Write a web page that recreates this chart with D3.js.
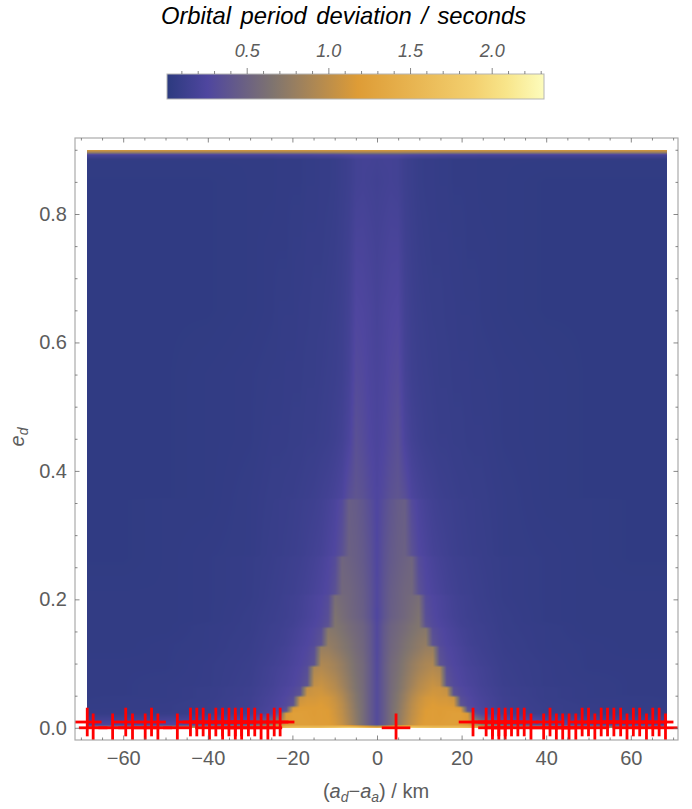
<!DOCTYPE html>
<html>
<head>
<meta charset="utf-8">
<script src="https://cdn.jsdelivr.net/npm/d3@7"></script>
<style>
	body { margin: 0; background: #fff; }
	svg { display: block; font-family: "Liberation Sans", Arial, sans-serif; }
	.axisLabel { fill: #5c5c5c; }
</style>
</head>
<body>
<svg id="vis" width="692" height="809"></svg>
<script>
// distance from the centre in km (the map is mirrored around x = 0)
const halfColumns = [0, 1.65, 3.3, 4.95, 6.6, 8.25, 9.9, 11.55, 13.2, 14.85, 16.5, 18.15, 19.8, 21.45, 23.1, 24.75, 30, 40, 50, 60, 68.5];

// eccentricity of every row below
const rowE = [0, .005, .022, .026, .031, .035, .047, .051, .062, .066, .094, .098, .125, .129, .154, .158, .166, .172,
	.205, .209, .265, .269, .354, .358, .45, .55, .65, .75, .85, .885, .892, .896, .9];

// period deviation in 1/100 s, one row per rowE, one value per halfColumns
const rowValues = [
	[150,160,175,190,195,190,180,175,170,170,170,170,170,165,155,145,125,110,100,90,85],
	[30,44,59,74,90,104,114,120,120,120,122,122,120,115,95,70,40,30,26,24,22],
	[30,44,59,72,86,100,110,118,120,118,120,122,122,115,38,26,16,11,9,8,8],
	[30,44,59,72,86,100,110,118,120,118,120,120,118,38,28,24,15,10,8,8,7],
	[30,44,59,70,84,98,108,116,118,118,118,118,112,34,27,23,15,10,8,7,7],
	[30,44,59,70,84,98,108,114,118,116,116,114,38,29,25,22,14,10,8,7,7],
	[30,44,58,68,80,94,104,112,114,112,112,106,33,28,24,21,14,9,7,7,6],
	[30,44,58,68,80,92,102,108,112,110,108,38,30,26,23,20,13,9,7,6,6],
	[30,44,57,65,75,87,96,102,108,108,102,34,28,25,22,19,13,9,7,6,6],
	[30,44,57,65,75,85,95,101,106,102,38,30,26,23,21,18,12,8,7,6,6],
	[29,44,56,62,70,78,85,90,94,90,32,27,24,21,19,17,11,8,6,6,6],
	[29,44,56,62,70,78,85,90,92,38,30,26,23,20,18,16,11,8,6,6,6],
	[28,43,53,58,64,69,74,79,79,33,27,24,21,18,16,14,10,7,6,5,5],
	[28,43,53,58,64,69,74,77,38,30,26,23,20,17,15,14,10,7,6,5,5],
	[28,42,51,55,59,64,68,70,33,28,24,21,18,16,14,13,9,7,5,5,5],
	[28,42,51,55,59,64,67,38,30,26,23,20,17,15,14,13,9,7,5,5,5],
	[27,40,49,53,57,61,66,35,29,25,22,19,16,15,13,12,9,6,5,5,5],
	[26,38,47,51,55,60,65,34,28,24,21,18,16,14,13,12,9,6,5,5,5],
	[27,38,46,50,54,57,60,31,26,23,20,17,15,14,12,11,8,6,5,5,5],
	[27,38,46,50,54,55,36,28,24,21,18,16,14,13,12,11,8,6,5,5,5],
	[26,36,43,47,50,53,31,25,21,18,16,14,13,12,11,10,8,6,5,4,4],
	[26,36,43,47,49,36,27,23,19,17,15,13,12,11,10,10,7,6,5,4,4],
	[25,33,40,45,47,30,23,19,16,14,13,12,11,10,10,9,7,5,5,4,4],
	[25,30,36,39,34,24,20,17,15,13,12,11,10,10,9,9,7,5,4,4,4],
	[23,26,31,35,23,17,14,12,11,10,10,9,9,8,8,8,6,5,4,4,4],
	[22,24,28,30,19,14,12,11,10,9,9,8,8,8,7,7,6,5,4,4,4],
	[20,23,25,26,17,13,11,10,9,9,8,8,7,7,7,6,5,4,4,4,4],
	[18,20,22,22,15,12,10,9,8,8,8,7,7,6,6,6,5,4,4,4,4],
	[16,17,18,17,13,11,9,8,8,7,7,6,6,6,6,5,5,4,4,4,4],
	[17,18,18,17,13,11,9,8,8,7,7,6,6,6,6,5,5,5,5,5,5],
	[30,30,30,30,28,26,25,24,24,23,22,22,22,21,21,20,20,20,20,20,20],
	[85,85,85,85,84,84,83,83,83,82,82,82,82,82,82,82,82,82,82,82,82],
	[120,120,120,120,118,118,118,118,118,118,118,118,118,118,118,118,118,118,118,118,118]
];

// crosses
const crossesUpper = [-68.5, -59.4, -53.3, -44.1, -42.6, -41.1, -38.1, -36.5, -35, -33.5, -32, -30.4, -28.9, -24.3, -22.9,
	22.7, 25.8, 27.3, 28.8, 30.3, 31.8, 33.3, 34.8, 40.9, 48.5, 50, 53, 54.5, 56, 57.6, 60.6, 62.1, 65.2, 66.7];
const crossesLower = [-67.1, -62.5, -57.8, -54.8, -51.8, -47.2, -39.6, -36.5, -33.5, -32, -27.4, -25.8,
	4.5, 27.3, 28.8, 30.3, 36.4, 39.4, 42.4, 43.9, 45.4, 47, 51.5, 59.1, 63.7, 68.2];

const xMajor = [-60, -40, -20, 0, 20, 40, 60];
const yMajor = [0, 0.2, 0.4, 0.6, 0.8];
const barMajor = [0.5, 1, 1.5, 2];

const colorStops = [0.01, 0.26, 0.66, 1.18, 1.89, 2.09, 2.32];
const colorValues = ["#2c3a7f", "#4f469f", "#7f746f", "#de9c36", "#f3d06f", "#f8e58a", "#fdfcbc"];

const svg = d3.select("svg#vis");

const frame = { left: 75, right: 678, top: 138, bottom: 740 };

const x = d3.scaleLinear().domain([-60, 60]).range([123.2, 630.8]);
const y = d3.scaleLinear().domain([0, 0.8]).range([727.8, 214]);
const color = d3.scaleLinear().domain(colorStops).range(colorValues).clamp(true);

// full table, mirrored from the right half
const columns = halfColumns.slice(1).reverse().map(d => -d).concat(halfColumns);
const table = rowValues.map(r => r.slice(1).reverse().concat(r).map(v => v / 100));

function valueAt(px, e) {
	let i = Math.min(Math.max(d3.bisectRight(columns, px) - 1, 0), columns.length - 2);
	let j = Math.min(Math.max(d3.bisectRight(rowE, e) - 1, 0), rowE.length - 2);
	const tx = Math.max(0, Math.min(1, (px - columns[i]) / (columns[i + 1] - columns[i])));
	const ty = Math.max(0, Math.min(1, (e - rowE[j]) / (rowE[j + 1] - rowE[j])));
	const low = table[j][i] * (1 - tx) + table[j][i + 1] * tx;
	const high = table[j + 1][i] * (1 - tx) + table[j + 1][i + 1] * tx;
	return low * (1 - ty) + high * ty;
}

// paint the density map on a canvas, then put it in the svg as an image
const x0 = Math.round(x(-68.5)), x1 = Math.round(x(68.5));
const y0 = Math.round(y(0.9)), y1 = Math.round(y(0));
const canvas = document.createElement("canvas");
canvas.width = x1 - x0;
canvas.height = y1 - y0;
const ctx = canvas.getContext("2d");
for (let py = 0; py < canvas.height; py++) {
	for (let px = 0; px < canvas.width; px++) {
		ctx.fillStyle = color(valueAt(x.invert(x0 + px + 0.5), y.invert(y0 + py + 0.5)));
		ctx.fillRect(px, py, 1, 1);
	}
}
svg.append("image")
	.attr("x", x0).attr("y", y0)
	.attr("width", canvas.width).attr("height", canvas.height)
	.attr("href", canvas.toDataURL());

// crosses, clipped to the frame
svg.append("clipPath").attr("id", "frameClip").append("rect")
	.attr("x", frame.left).attr("y", frame.top)
	.attr("width", frame.right - frame.left).attr("height", frame.bottom - frame.top);

const gCross = svg.append("g").attr("clip-path", "url(#frameClip)")
	.attr("stroke", "#ff0000").attr("stroke-width", 2.8);

function drawCrosses(xs, e) {
	const g = gCross.selectAll(null).data(xs).enter().append("g")
		.attr("transform", d => translate(x(d), y(e)));
	g.append("line").attr("x1", -14.3).attr("x2", 14.3);
	g.append("line").attr("y1", -14.3).attr("y2", 14.3);
}
drawCrosses(crossesLower, 0);
drawCrosses(crossesUpper, 0.009);

// frame
svg.append("rect")
	.attr("x", frame.left).attr("y", frame.top)
	.attr("width", frame.right - frame.left).attr("height", frame.bottom - frame.top)
	.attr("fill", "none").attr("stroke", "#ababab").attr("stroke-width", 1.2);

function styleAxis(g, size) {
	g.select(".domain").remove();
	g.selectAll("line").attr("stroke", "#6a6a6a").attr("stroke-width", 0.8);
	g.selectAll("text").attr("fill", "#5c5c5c").attr("font-size", size || 20).attr("font-family", "Liberation Sans");
}

const xMinor = d3.range(-70, 71, 5).filter(d => d % 20 !== 0);
const yMinor = d3.range(0, 0.91, 0.05).filter(d => Math.round(d * 100) % 20 !== 0);

function addAxes(axis, scale, major, minor, pos, labels, padding) {
	svg.append("g").attr("transform", pos)
		.call(axis(scale).tickValues(minor).tickSize(-2.5).tickFormat(""))
		.call(styleAxis);
	const a = axis(scale).tickValues(major).tickSize(-4.5).tickPadding(padding);
	a.tickFormat(labels ? (scale === y ? d3.format(".1f") : d3.format("d")) : "");
	svg.append("g").attr("transform", pos).call(a).call(styleAxis);
}

addAxes(d3.axisBottom, x, xMajor, xMinor, translate(0, frame.bottom), true, 11);
addAxes(d3.axisTop, x, xMajor, xMinor, translate(0, frame.top), false, 8);
addAxes(d3.axisLeft, y, yMajor, yMinor, translate(frame.left, 0), true, 8);
addAxes(d3.axisRight, y, yMajor, yMinor, translate(frame.right, 0), false, 8);

// axis labels
const xLabel = svg.append("text").attr("class", "axisLabel")
	.attr("x", 376).attr("y", 798).attr("text-anchor", "middle").attr("font-size", 20);
xLabel.append("tspan").text("(");
xLabel.append("tspan").attr("font-style", "italic").text("a");
xLabel.append("tspan").attr("font-style", "italic").attr("font-size", 14).attr("dy", 4).text("d");
xLabel.append("tspan").attr("dy", -4).text("\u2212");
xLabel.append("tspan").attr("font-style", "italic").text("a");
xLabel.append("tspan").attr("font-style", "italic").attr("font-size", 14).attr("dy", 4).text("a");
xLabel.append("tspan").attr("dy", -4).text(") / km");

const yLabel = svg.append("text").attr("class", "axisLabel")
	.attr("transform", translate(24, 437) + " rotate(-90)")
	.attr("text-anchor", "middle").attr("font-size", 20).attr("font-style", "italic");
yLabel.append("tspan").text("e");
yLabel.append("tspan").attr("font-size", 14).attr("dy", 4).text("d");

// legend
const bar = d3.scaleLinear().domain([0.5, 2]).range([246.7, 491.7]);
const barLeft = 167, barRight = 544, barTop = 74, barBottom = 99;

const gradient = svg.append("defs").append("linearGradient").attr("id", "barGradient");
gradient.selectAll("stop").data(colorStops).enter().append("stop")
	.attr("offset", d => (bar(d) - barLeft) / (barRight - barLeft))
	.attr("stop-color", d => color(d));

svg.append("rect")
	.attr("x", barLeft).attr("y", barTop)
	.attr("width", barRight - barLeft).attr("height", barBottom - barTop)
	.attr("fill", "url(#barGradient)").attr("stroke", "#b5b5b5").attr("stroke-width", 1);

const barMinor = d3.range(0.1, 2.31, 0.1).filter(d => Math.round(d * 10) % 5 !== 0);
svg.append("g").attr("transform", translate(0, barTop))
	.call(d3.axisTop(bar).tickValues(barMinor).tickSize(3).tickFormat(""))
	.call(g => styleAxis(g, 18));
svg.append("g").attr("transform", translate(0, barTop))
	.call(d3.axisTop(bar).tickValues(barMajor).tickSize(6).tickPadding(11).tickFormat(d3.format(".1f")))
	.call(g => styleAxis(g, 18))
	.selectAll("text").attr("font-style", "italic");

svg.append("text")
	.attr("x", 343.5).attr("y", 24).attr("text-anchor", "middle")
	.attr("font-size", 23.8).attr("font-style", "italic").attr("fill", "#000")
	.attr("word-spacing", 3)
	.text("Orbital period deviation / seconds");

function translate(a, b) {
	return "translate(" + a + "," + b + ")";
}
</script>
</body>
</html>
